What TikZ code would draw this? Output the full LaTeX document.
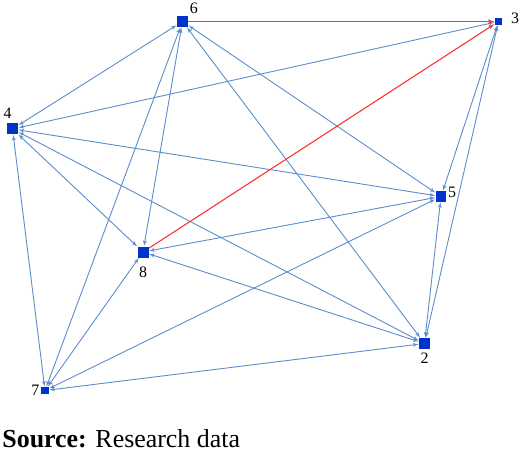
\documentclass[tikz,border=0pt]{standalone}
\usepackage{fontspec}
\setmainfont{Liberation Serif}
\usetikzlibrary{arrows,positioning}

\definecolor{netblue}{RGB}{0,51,204}
\definecolor{linkblue}{RGB}{92,140,204}
\definecolor{linkred}{RGB}{255,50,50}

\begin{document}
\begin{tikzpicture}[<->,>=latex',x=1bp,y=-1bp,line width=0.9bp,
    every label/.style={font=\fontsize{16}{16}\selectfont,inner sep=1bp,text=black}]
    \tikzstyle{actor}=[rectangle,fill=netblue,draw=none,inner sep=0pt,minimum size=11bp]
    \tikzstyle{small actor}=[actor,minimum width=7.5bp,minimum height=7bp]
    \tikzstyle{link}=[color=linkblue]
    \tikzstyle{tie}=[color=linkred,line width=1.1bp,->]
    \useasboundingbox (0,0) rectangle (520,453);

    \node[actor] (6) at (182.5,21.5) [label={above right:6}] {};
    \node[small actor] (3)[on grid,right=316bp of 6] [label={[label distance=7bp,yshift=3bp]right:3}] {};
    \node[actor] (4)[on grid,below left=107.5bp and 170bp of 6] [label={[label distance=3bp,xshift=-5bp]above:4}] {};
    \node[actor,minimum size=10.5bp] (5)[on grid,below right=175bp and 258.5bp of 6] [label={[yshift=4bp]right:5}] {};
    \node[actor] (8)[on grid,below left=230.5bp and 39.5bp of 6] [label={[label distance=7bp]below:8}] {};
    \node[actor] (2)[on grid,below right=322bp and 242bp of 6] [label={[label distance=2.5bp]below:2}] {};
    \node[small actor] (7)[on grid,below left=369bp and 137.5bp of 6] [label={left:7}] {};

    \path[link] (6) edge (4)
    (6) edge (8)
    (6) edge (7)
    (6) edge (5)
    (6) edge (2)
    (4) edge (3)
    (4) edge (5)
    (4) edge (8)
    (4) edge (2)
    (4) edge (7)
    (3) edge (5)
    (3) edge (2)
    (5) edge (8)
    (5) edge (7)
    (5) edge (2)
    (8) edge (2)
    (8) edge (7)
    (7) edge (2);
    % the two red ties end at 3
    \path[tie] (6.east) edge (3)
    (8) edge (3);

    \node[anchor=base west,inner sep=0pt,font=\fontsize{26}{26}\selectfont] (src) at (2,447) {\textbf{Source:} Research data};
\end{tikzpicture}
\end{document}
